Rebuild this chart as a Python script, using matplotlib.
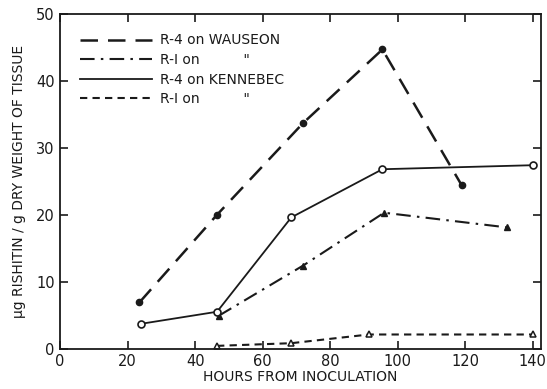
import matplotlib
matplotlib.use("Agg")
import matplotlib.pyplot as plt

# Data
r4_wau_x = [23.5, 46.5, 72, 95.5, 119]
r4_wau_y = [6.9, 20.0, 33.7, 44.7, 24.4]
r1_wau_x = [47, 72, 96, 132.5]
r1_wau_y = [4.9, 12.4, 20.3, 18.1]
r4_ken_x = [24, 46.5, 68.5, 95.5, 140]
r4_ken_y = [3.7, 5.5, 19.6, 26.8, 27.4]
r1_ken_x = [46.5, 68.5, 91.5, 140]
r1_ken_y = [0.4, 0.8, 2.1, 2.1]

labels = ["R-4 on WAUSEON", 'R-I on          "', "R-4 on KENNEBEC", 'R-I on          "']
xticks = [0, 20, 40, 60, 80, 100, 120, 140]
yticks = [0, 10, 20, 30, 40, 50]

plt.rcParams['font.family'] = ['DejaVu Sans']
fig = plt.figure(figsize=(5.47, 3.89), dpi=100)
ax = fig.add_axes([0.11, 0.104, 0.879, 0.860])

c = '#1a1a1a'
ax.plot(r4_wau_x, r4_wau_y, color=c, lw=1.8, dashes=(7, 4), marker='o', ms=4.5,
        mfc=c, mec=c, label=labels[0])
ax.plot(r1_wau_x, r1_wau_y, color=c, lw=1.5, dashes=(7, 3, 1.2, 3), marker='^', ms=5,
        mfc=c, mec=c, label=labels[1])
ax.plot(r4_ken_x, r4_ken_y, color=c, lw=1.3, linestyle='-', marker='o', ms=5,
        mfc='white', mec=c, mew=1.2, label=labels[2])
ax.plot(r1_ken_x, r1_ken_y, color=c, lw=1.5, dashes=(3.5, 2.5), marker='^', ms=5,
        mfc='white', mec=c, mew=1.1, label=labels[3])

ax.set_xlim(0, 142.5)
ax.set_ylim(0, 50)
ax.set_xticks(xticks)
ax.set_yticks(yticks)
ax.tick_params(direction='in', length=6, width=1.2, top=True, right=True,
               labelsize=10.5, colors=c, pad=4)
for s in ax.spines.values():
    s.set_linewidth(1.3)
    s.set_color(c)

ax.set_xlabel("HOURS FROM INOCULATION", fontsize=10, color=c, labelpad=1)
ax.set_ylabel("µg RISHITIN / g DRY WEIGHT OF TISSUE", fontsize=10, color=c, labelpad=7)

leg = ax.legend(loc='upper left', frameon=False, handlelength=5.2, fontsize=10,
                handletextpad=0.6, labelspacing=0.4, borderaxespad=0.9,
                borderpad=0.5, markerscale=0)
for t in leg.get_texts():
    t.set_color(c)

fig.savefig("out.png", dpi=100)
